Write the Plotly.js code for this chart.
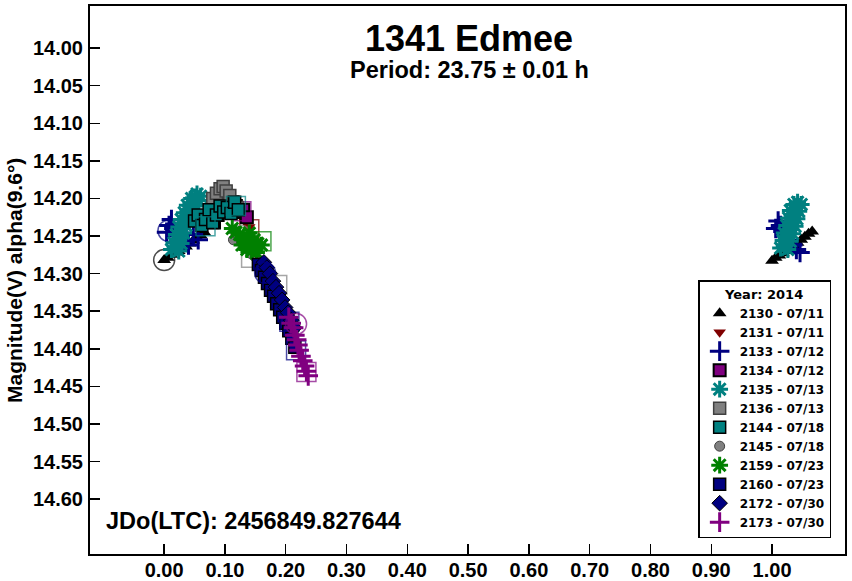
<!DOCTYPE html>
<html><head><meta charset="utf-8">
<script src="https://cdn.plot.ly/plotly-3.0.1.min.js"></script>
<style>html,body{margin:0;padding:0;background:#fff}#chart{width:852px;height:581px}</style>
</head><body><div id="chart"></div>
<script>
// ---- data (phase, reduced magnitude) ----
const sessionIds   = ['2130','2131','2133','2134','2135','2136','2144','2145','2159','2160','2172','2173'];
const sessionDates = ['07/11','07/11','07/12','07/12','07/13','07/13','07/18','07/18','07/23','07/23','07/30','07/30'];
const yearLabel = 'Year: 2014';

const phase2130 = [0.000,0.006,0.012,0.018,0.024,0.030,0.036,0.042,0.048,0.054,0.060,0.066];
const mag2130   = [14.282,14.279,14.275,14.272,14.270,14.266,14.264,14.260,14.256,14.252,14.249,14.245];
const phase2130w = [1.000,1.006,1.012,1.018,1.024,1.030,1.036,1.042,1.048,1.054,1.060,1.066];
const mag2130w   = [14.283,14.279,14.276,14.273,14.270,14.266,14.263,14.259,14.255,14.251,14.247,14.244];

const phase2131 = [0.068,0.074,0.080,0.086,0.092,0.098,0.104,0.110,0.116,0.122,0.128,0.134,0.140];
const mag2131   = [14.225,14.218,14.214,14.210,14.207,14.210,14.206,14.212,14.215,14.220,14.226,14.232,14.238];

const phase2133 = [0.004,0.008,0.012,0.016,0.020,0.026,0.032,0.040,0.048,0.056];
const mag2133   = [14.245,14.236,14.228,14.240,14.250,14.246,14.258,14.262,14.248,14.255];
const phase2133w = [1.006,1.010,1.014,1.018,1.022,1.028,1.034,1.040,1.046];
const mag2133w   = [14.240,14.230,14.236,14.244,14.250,14.256,14.262,14.268,14.272];

const phase2134 = [0.075,0.082,0.088,0.094,0.100,0.106,0.112,0.118,0.124,0.130,0.136];
const mag2134   = [14.226,14.232,14.222,14.212,14.200,14.197,14.205,14.210,14.218,14.215,14.225];

const phase2135 = [0.012,0.018,0.024,0.016,0.022,0.028,0.020,0.027,0.032,0.024,0.030,0.036,0.028,0.034,0.040,0.033,0.039,0.045,0.038,0.044,0.050,0.045,0.051,0.057,0.054,0.060];
const mag2135   = [14.268,14.266,14.270,14.259,14.256,14.260,14.248,14.250,14.246,14.238,14.240,14.236,14.228,14.230,14.226,14.219,14.216,14.220,14.209,14.206,14.210,14.200,14.198,14.203,14.194,14.197];
const phase2135w = [1.014,1.020,1.026,1.018,1.024,1.030,1.020,1.027,1.034,1.024,1.031,1.038,1.027,1.034,1.041,1.030,1.037,1.044,1.036,1.042,1.048];
const mag2135w   = [14.266,14.264,14.268,14.256,14.254,14.257,14.246,14.244,14.247,14.236,14.234,14.237,14.226,14.224,14.227,14.216,14.214,14.217,14.208,14.205,14.208];

const phase2136 = [0.080,0.086,0.092,0.097,0.102,0.108,0.114,0.120];
const mag2136   = [14.200,14.193,14.187,14.184,14.190,14.196,14.205,14.212];

const phase2144 = [0.050,0.056,0.062,0.068,0.074,0.080,0.086,0.092,0.098,0.104,0.110,0.116,0.122];
const mag2144   = [14.230,14.222,14.236,14.228,14.215,14.232,14.222,14.210,14.218,14.212,14.220,14.205,14.215];

const phase2145 = [0.114,0.120,0.126,0.132,0.138,0.144,0.150,0.156];
const mag2145   = [14.255,14.248,14.255,14.262,14.268,14.274,14.278,14.285];

const phase2159 = [0.112,0.118,0.124,0.130,0.136,0.142,0.148,0.154,0.160,0.128,0.136,0.144,0.152,0.140];
const mag2159   = [14.240,14.245,14.248,14.252,14.255,14.258,14.255,14.260,14.262,14.262,14.268,14.270,14.272,14.246];

const phase2160 = [0.155,0.160,0.165,0.170,0.175,0.180,0.185,0.190,0.195,0.200,0.205,0.210,0.215];
const mag2160   = [14.288,14.296,14.305,14.313,14.322,14.330,14.340,14.348,14.358,14.366,14.376,14.386,14.398];

const phase2172 = [0.164,0.169,0.174,0.179,0.184,0.189,0.194,0.199,0.204,0.209,0.214];
const mag2172   = [14.285,14.292,14.300,14.310,14.318,14.326,14.335,14.345,14.352,14.362,14.372];

const phase2173 = [0.205,0.209,0.213,0.215,0.218,0.220,0.222,0.225,0.228,0.231,0.234,0.237];
const mag2173   = [14.358,14.366,14.372,14.382,14.388,14.395,14.402,14.410,14.416,14.423,14.430,14.436];

// large open reference marks
const openPhase   = [0.000,0.007,0.068,0.118,0.127,0.140,0.127,0.143,0.186,0.160,0.166,0.206,0.217,0.217,0.234];
const openMag     = [14.282,14.243,14.237,14.210,14.217,14.241,14.250,14.279,14.315,14.257,14.299,14.364,14.402,14.367,14.431];
const openSession = ['2130','2133','2144','2144','2134','2131','2145','2136','2136','2159','2172','2160','2160','2173','2173'];
const openShape   = ['circle','circle','square','square','square','square','circle','square','square','square','circle','square','square','circle','square'];

const sessionPhase = {'2130':phase2130,'2131':phase2131,'2133':phase2133,'2134':phase2134,'2135':phase2135,'2136':phase2136,'2144':phase2144,'2145':phase2145,'2159':phase2159,'2160':phase2160,'2172':phase2172,'2173':phase2173};
const sessionMag = {'2130':mag2130,'2131':mag2131,'2133':mag2133,'2134':mag2134,'2135':mag2135,'2136':mag2136,'2144':mag2144,'2145':mag2145,'2159':mag2159,'2160':mag2160,'2172':mag2172,'2173':mag2173};
const wrapPhase = {'2130':phase2130w,'2133':phase2133w,'2135':phase2135w};
const wrapMag = {'2130':mag2130w,'2133':mag2133w,'2135':mag2135w};

// ---- styles ----
const styles = {
  '2130':{symbol:'triangle-up',color:'#000000',line:'#000000',lw:0,size:12},
  '2131':{symbol:'triangle-down',color:'#800000',line:'#800000',lw:0,size:11},
  '2133':{symbol:'cross-thin-open',color:'#000080',line:'#000080',lw:3,size:14},
  '2134':{symbol:'square',color:'#800080',line:'#000000',lw:2,size:12},
  '2135':{symbol:'asterisk-open',color:'#008080',line:'#008080',lw:3,size:14},
  '2136':{symbol:'square',color:'#808080',line:'#404040',lw:1.5,size:12},
  '2144':{symbol:'square',color:'#008080',line:'#000000',lw:1.5,size:12},
  '2145':{symbol:'circle',color:'#808080',line:'#404040',lw:1,size:10},
  '2159':{symbol:'asterisk-open',color:'#008000',line:'#008000',lw:3,size:14},
  '2160':{symbol:'square',color:'#000080',line:'#000000',lw:1.5,size:12},
  '2172':{symbol:'diamond',color:'#000080',line:'#000000',lw:1,size:12},
  '2173':{symbol:'cross-thin-open',color:'#800080',line:'#800080',lw:3,size:14}
};

const FONT = 'Liberation Sans, Arial, sans-serif';
const LEGFONT = 'DejaVu Sans, Verdana, sans-serif';
const traces = [];
sessionIds.forEach((id, i) => {
  const s = styles[id];
  const mk = {symbol:s.symbol, size:s.size, color:s.color, line:{color:s.line, width:s.lw}};
  traces.push({type:'scatter', mode:'markers', name:id + ' - ' + sessionDates[i], legendgroup:id,
    x:sessionPhase[id], y:sessionMag[id], marker:mk, hoverinfo:'x+y'});
  if (wrapPhase[id]) {
    traces.push({type:'scatter', mode:'markers', legendgroup:id, showlegend:false,
      x:wrapPhase[id], y:wrapMag[id], marker:mk, hoverinfo:'x+y'});
  }
  const ox = [], oy = [], osym = [], osz = [];
  openSession.forEach((sid, k) => {
    if (sid === id) { ox.push(openPhase[k]); oy.push(openMag[k]);
      osym.push(openShape[k] + '-open'); osz.push(openShape[k] === 'circle' ? 21 : 19); }
  });
  if (ox.length) {
    traces.push({type:'scatter', mode:'markers', legendgroup:id, showlegend:false, x:ox, y:oy,
      marker:{symbol:osym, size:osz, color:s.color, line:{color:s.color, width:1.5}}, hoverinfo:'skip'});
  }
});

const yTicks = [14.00,14.05,14.10,14.15,14.20,14.25,14.30,14.35,14.40,14.45,14.50,14.55,14.60];
const xTicks = [0.0,0.1,0.2,0.3,0.4,0.5,0.6,0.7,0.8,0.9,1.0];

const axisCommon = {showline:true, linewidth:2, linecolor:'#000', mirror:true, ticks:'inside', ticklen:10,
  tickwidth:1.5, tickcolor:'#000', showgrid:false, zeroline:false, tickformat:'.2f', automargin:false,
  tickfont:{family:FONT, size:20, color:'#000', weight:'bold'}};

const layout = {
  width:852, height:581, paper_bgcolor:'#fff', plot_bgcolor:'#fff',
  margin:{l:90, r:7, t:6, b:27, autoexpand:false},
  showlegend:true,
  font:{family:FONT, color:'#000'},
  xaxis:Object.assign({}, axisCommon, {range:[-0.122,1.12], tickvals:xTicks, ticklabelstandoff:-3}),
  yaxis:Object.assign({}, axisCommon, {range:[14.673,13.944], tickvals:yTicks, ticklabelstandoff:1}),
  legend:{x:0.8055, y:0.4995, xanchor:'left', yanchor:'top', bgcolor:'#fff', bordercolor:'#000', borderwidth:1.5,
    font:{family:LEGFONT, size:12, color:'#000', weight:'bold'}, tracegroupgap:0,
    title:{text:yearLabel, side:'top center', font:{family:LEGFONT, size:13, color:'#000', weight:'bold'}}},
  annotations:[
    {text:'1341 Edmee', xref:'paper', yref:'paper', x:0.502, y:0.941, xanchor:'center', yanchor:'middle', showarrow:false,
      font:{family:FONT, size:36, color:'#000', weight:'bold'}},
    {text:'Period: 23.75 ± 0.01 h', xref:'paper', yref:'paper', x:0.502, y:0.883, xanchor:'center', yanchor:'middle', showarrow:false,
      font:{family:FONT, size:23.5, color:'#000', weight:'bold'}},
    {text:'JDo(LTC): 2456849.827644', xref:'paper', yref:'paper', x:0.019, y:0.0602, xanchor:'left', yanchor:'middle', showarrow:false,
      font:{family:FONT, size:23.5, color:'#000', weight:'bold'}},
    {text:'Magnitude(V) alpha(9.6°)', xref:'paper', yref:'paper', x:-0.1007, y:0.5, xanchor:'center', yanchor:'middle', textangle:-90, showarrow:false,
      font:{family:FONT, size:21, color:'#000', weight:'bold'}}
  ]
};

Plotly.newPlot('chart', traces, layout, {displayModeBar:false, staticPlot:true});
</script></body></html>
